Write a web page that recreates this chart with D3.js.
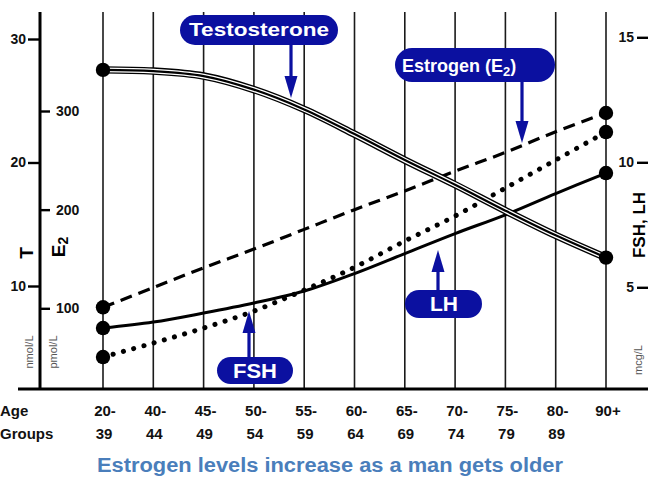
<!DOCTYPE html>
<html><head><meta charset="utf-8">
<script src="https://cdn.jsdelivr.net/npm/d3@7"></script>
<style>
html,body{margin:0;padding:0;background:#fff;}
svg{display:block;font-family:"Liberation Sans",Arial,Helvetica,sans-serif;}
</style></head>
<body>
<svg id="chart" width="648" height="479"></svg>
<script>
// ---- data ----
const ageGroups = ["20-39","40-44","45-49","50-54","55-59","60-64","65-69","70-74","75-79","80-89","90+"];
const ageTop    = ["20-","40-","45-","50-","55-","60-","65-","70-","75-","80-","90+"];
const ageBottom = ["39","44","49","54","59","64","69","74","79","89",""];
const testosterone = [27.5, 27.4, 27.0, 25.9, 24.3, 22.3, 20.2, 18.2, 16.1, 14.1, 12.3]; // nmol/L
const estradiol    = [101, 121, 141, 160, 180, 200, 219, 239, 258, 279, 298];             // pmol/L
const lh  = [3.37, 3.61, 3.97, 4.37, 4.85, 5.55, 6.35, 7.15, 7.9, 8.75, 9.57];             // mcg/L
const fsh = [2.21, 2.77, 3.37, 4.05, 4.89, 5.8, 6.85, 7.85, 8.97, 10.09, 11.21];           // mcg/L
const tTicks = [10, 20, 30];
const e2Ticks = [100, 200, 300];
const gonTicks = [5, 10, 15];
const title = "Estrogen levels increase as a man gets older";

// ---- layout ----
const svg = d3.select("#chart");
const plotTop = 12, base = 389;
const x = d3.scalePoint().domain(ageGroups).range([103, 606]);
const yT = d3.scaleLinear().domain([10, 30]).range([286, 39]);
const yE = d3.scaleLinear().domain([100, 300]).range([308.3, 111]);
const yG = d3.scaleLinear().domain([5, 15]).range([287.3, 37.3]);
const navy = "#0b10a0";
const curve = d3.curveCatmullRom.alpha(0.5);

// gridlines
svg.append("g").selectAll("line").data(ageGroups).join("line")
  .attr("x1", d => x(d)).attr("x2", d => x(d))
  .attr("y1", plotTop).attr("y2", base)
  .attr("stroke", "#1a1a1a").attr("stroke-width", 1.6);

// left axis line and baseline
svg.append("line").attr("x1", 40).attr("x2", 40).attr("y1", plotTop).attr("y2", base)
  .attr("stroke", "#000").attr("stroke-width", 3);
svg.append("line").attr("x1", 18).attr("x2", 648).attr("y1", base).attr("y2", base)
  .attr("stroke", "#000").attr("stroke-width", 3);

function styleAxis(g){
  g.select(".domain").remove();
  g.selectAll(".tick line").attr("stroke", "#000").attr("stroke-width", 2.4);
  g.selectAll(".tick text").attr("fill", "#111").attr("font-size", 14).attr("font-weight", "bold")
    .attr("font-family", "'Liberation Sans',Arial,sans-serif");
}
svg.append("g").attr("transform", "translate(40,0)")
  .call(d3.axisLeft(yT).tickValues(tTicks).tickSize(12).tickPadding(2)).call(styleAxis);
svg.append("g").attr("transform", "translate(40,0)")
  .call(d3.axisRight(yE).tickValues(e2Ticks).tickSize(10).tickPadding(6)).call(styleAxis);
svg.append("g").attr("transform", "translate(648,0)")
  .call(d3.axisLeft(yG).tickValues(gonTicks).tickSize(11).tickPadding(3)).call(styleAxis);

// axis titles
function vtext(xp, yp, txt, size, weight, fill){
  return svg.append("text").attr("transform", `translate(${xp},${yp}) rotate(-90)`)
    .attr("text-anchor", "middle").attr("dominant-baseline", "central")
    .attr("font-size", size).attr("font-weight", weight).attr("fill", fill).text(txt);
}
vtext(26, 253, "T", 19, "bold", "#000");
const e2lab = vtext(58, 247, "E", 19, "bold", "#000");
e2lab.append("tspan").attr("font-size", 14).attr("dy", 5).text("2");
vtext(29, 352, "nmol/L", 11, "normal", "#555");
vtext(53, 352, "pmol/L", 11, "normal", "#555");
vtext(639, 225, "FSH, LH", 17, "bold", "#000");
vtext(638, 360, "mcg/L", 11, "normal", "#555");

// lines
const lineT = d3.line().x((d, i) => x(ageGroups[i])).y(d => yT(d)).curve(curve);
const lineE = d3.line().x((d, i) => x(ageGroups[i])).y(d => yE(d)).curve(curve);
const lineG = d3.line().x((d, i) => x(ageGroups[i])).y(d => yG(d)).curve(curve);

svg.append("path").attr("d", lineE(estradiol)).attr("fill", "none")
  .attr("stroke", "#000").attr("stroke-width", 3.2).attr("stroke-dasharray", "12,7");
svg.append("path").attr("d", lineG(fsh)).attr("fill", "none")
  .attr("stroke", "#000").attr("stroke-width", 5).attr("stroke-linecap", "round")
  .attr("stroke-dasharray", "0.1,10.5");
svg.append("path").attr("d", lineG(lh)).attr("fill", "none")
  .attr("stroke", "#000").attr("stroke-width", 3);
const tPath = lineT(testosterone);
svg.append("path").attr("d", tPath).attr("fill", "none").attr("stroke", "#000").attr("stroke-width", 7.5);
svg.append("path").attr("d", tPath).attr("fill", "none").attr("stroke", "#fff").attr("stroke-width", 4.8);
svg.append("path").attr("d", tPath).attr("fill", "none").attr("stroke", "#000").attr("stroke-width", 2.2);

// end dots
const ends = [0, ageGroups.length - 1];
const dots = [];
ends.forEach(i => {
  dots.push([x(ageGroups[i]), yT(testosterone[i])]);
  dots.push([x(ageGroups[i]), yE(estradiol[i])]);
  dots.push([x(ageGroups[i]), yG(lh[i])]);
  dots.push([x(ageGroups[i]), yG(fsh[i])]);
});
svg.append("g").selectAll("circle").data(dots).join("circle")
  .attr("cx", d => d[0]).attr("cy", d => d[1]).attr("r", 7.2).attr("fill", "#000");

// x labels
const lab = svg.append("g").attr("font-size", 15).attr("font-weight", "bold").attr("fill", "#111");
lab.append("text").attr("x", 0).attr("y", 416).text("Age");
lab.append("text").attr("x", 0).attr("y", 439).text("Groups");
lab.selectAll("text.t").data(ageGroups).join("text").attr("class", "t")
  .attr("x", d => x(d) + 2).attr("y", 416).attr("text-anchor", "middle")
  .text((d, i) => ageTop[i]);
lab.selectAll("text.b").data(ageGroups).join("text").attr("class", "b")
  .attr("x", d => x(d) + 1).attr("y", 439).attr("text-anchor", "middle")
  .text((d, i) => ageBottom[i]);

// title
svg.append("text").attr("x", 330).attr("y", 472).attr("text-anchor", "middle")
  .attr("font-size", 20).attr("font-weight", "bold").attr("fill", "#4a7ebb")
  .attr("textLength", 466).attr("lengthAdjust", "spacingAndGlyphs").text(title);

// annotation pills with arrows
function pill(x0, y0, w, h){
  svg.append("rect").attr("x", x0).attr("y", y0).attr("width", w).attr("height", h)
    .attr("rx", h / 2).attr("fill", navy);
}
function arrow(xa, yFrom, yTip){
  const dir = yTip > yFrom ? 1 : -1;
  const headLen = 22, headW = 6.5;
  svg.append("line").attr("x1", xa).attr("x2", xa).attr("y1", yFrom).attr("y2", yTip - dir * headLen + dir * 2)
    .attr("stroke", navy).attr("stroke-width", 3.2);
  svg.append("path").attr("d", `M${xa - headW},${yTip - dir * headLen} L${xa + headW},${yTip - dir * headLen} L${xa},${yTip} Z`)
    .attr("fill", navy);
}
function pillText(xc, yc, w, txt, size){
  return svg.append("text").attr("x", xc).attr("y", yc).attr("text-anchor", "middle")
    .attr("dominant-baseline", "central").attr("fill", "#fff").attr("font-weight", "bold")
    .attr("font-size", size).attr("textLength", w).attr("lengthAdjust", "spacingAndGlyphs").text(txt);
}
// Testosterone
arrow(291, 44, 98);
pill(180, 15, 158, 30);
pillText(259, 30, 140, "Testosterone", 18);
// Estrogen
arrow(522, 80, 143);
pill(395, 48, 160, 34);
const et = svg.append("text").attr("x", 402).attr("y", 66).attr("dominant-baseline", "central")
  .attr("fill", "#fff").attr("font-weight", "bold").attr("font-size", 18);
et.append("tspan").text("Estrogen (E");
et.append("tspan").attr("font-size", 13).attr("dy", 5).text("2");
et.append("tspan").attr("dy", -5).text(")");
// LH
arrow(438, 292, 250);
pill(405, 290, 77, 28);
pillText(444, 304, 28, "LH", 20);
// FSH
arrow(249, 359, 311);
pill(217, 357, 76, 27);
pillText(255, 371, 44, "FSH", 20);
</script>
</body></html>
